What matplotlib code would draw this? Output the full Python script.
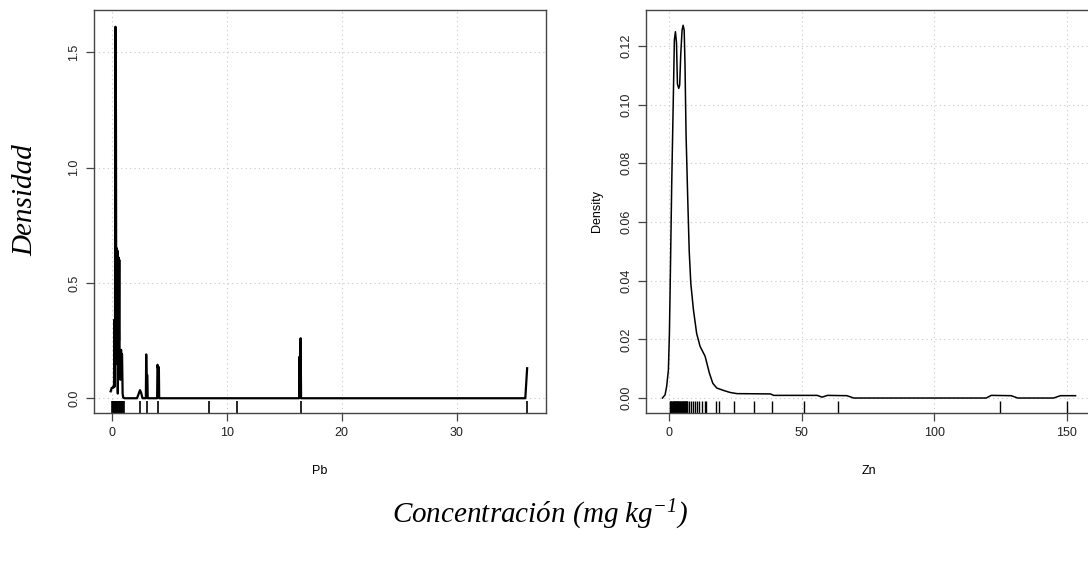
import matplotlib
matplotlib.use("Agg")
import matplotlib.pyplot as plt
from matplotlib.transforms import blended_transform_factory

# Pb density curve
pb_x = [-0.09, 0.0, 0.12, 0.2, 0.23, 0.26, 0.29, 0.31, 0.34, 0.37, 0.40, 0.44, 0.47,
        0.50, 0.53, 0.56, 0.60, 0.63, 0.66, 0.69, 0.72, 0.75, 0.78, 0.82, 0.86, 0.90,
        0.95, 1.0, 1.1, 2.2, 2.35, 2.46, 2.55, 2.68, 2.97, 3.0, 3.03, 3.1, 3.13,
        3.95, 3.98, 4.02, 4.1, 4.13, 16.3, 16.33, 16.38, 16.43, 16.47, 35.97, 36.13]
pb_y = [0.03, 0.045, 0.045, 0.06, 0.34, 0.05, 0.34, 1.61, 1.61, 1.2, 0.15, 0.65, 0.4,
        0.64, 0.02, 0.45, 0.61, 0.25, 0.6, 0.12, 0.14, 0.08, 0.2, 0.21, 0.18, 0.19,
        0.02, 0.003, 0.0, 0.0, 0.02, 0.035, 0.025, 0.0, 0.0, 0.19, 0.1, 0.1, 0.0,
        0.0, 0.145, 0.13, 0.135, 0.0, 0.0, 0.18, 0.02, 0.26, 0.0, 0.0, 0.13]
pb_rug = [0.02, 0.08, 0.14, 0.2, 0.26, 0.32, 0.38, 0.44, 0.5, 0.56, 0.62, 0.68, 0.74,
          0.8, 0.86, 0.92, 0.98, 1.04, 2.46, 3.04, 4.03, 8.46, 10.93, 16.49, 36.13]

# Zn density curve
zn_x = [-2.5, -1.5, -0.9, -0.25, 0.13, 0.5, 1.0, 1.64, 2.0, 2.4, 2.8, 3.15, 3.65, 4.0,
        4.4, 4.9, 5.3, 5.7, 6.0, 6.4, 7.05, 7.6, 8.2, 9.2, 10.4, 11.7, 13.6, 15.2,
        16.5, 18.0, 20.5, 23.0, 25.6, 38.2, 39.5, 55.9, 57.7, 59.7, 67.1, 69.6,
        119.6, 121.5, 129.0, 131.5, 145.0, 147.6, 153.3]
zn_y = [0.0, 0.0011, 0.004, 0.0096, 0.022, 0.043, 0.073, 0.104, 0.122, 0.1248, 0.121,
        0.107, 0.1055, 0.1066, 0.117, 0.1253, 0.127, 0.1253, 0.114, 0.090, 0.0675,
        0.050, 0.039, 0.030, 0.022, 0.0176, 0.0142, 0.0085, 0.005, 0.0034, 0.0026,
        0.0019, 0.0015, 0.0014, 0.0009, 0.0009, 0.0003, 0.0009, 0.0008, 0.0,
        0.0, 0.0009, 0.0008, 0.0, 0.0, 0.0008, 0.0008]
zn_rug = [0.3, 0.5, 0.7, 0.9, 1.1, 1.3, 1.5, 1.7, 1.9, 2.1, 2.3, 2.5, 2.7, 2.9, 3.1,
          3.3, 3.5, 3.7, 3.9, 4.1, 4.3, 4.5, 4.7, 4.9, 5.1, 5.3, 5.5, 5.7, 5.9, 6.1,
          6.3, 6.5, 6.7, 6.9, 7.5, 8.2, 9.0, 9.7, 10.6, 11.4, 12.4, 13.4, 14.1, 17.7,
          18.7, 24.5, 32.1, 38.8, 50.7, 63.7, 124.9, 150.0]

pb_xticks = [0, 10, 20, 30]
pb_yticks = [0.0, 0.5, 1.0, 1.5]
zn_xticks = [0, 50, 100, 150]
zn_yticks = [0.00, 0.02, 0.04, 0.06, 0.08, 0.10, 0.12]

plt.rcParams['font.family'] = ['Liberation Sans', 'DejaVu Sans']
plt.rcParams['mathtext.fontset'] = 'custom'
plt.rcParams['mathtext.rm'] = 'Liberation Serif:italic'
plt.rcParams['mathtext.it'] = 'Liberation Serif:italic'

fig = plt.figure(figsize=(10.88, 5.61), dpi=100)
W, H = 1088.0, 561.0
ax1 = fig.add_axes([94 / W, (H - 413) / H, 452 / W, 403 / H])
ax2 = fig.add_axes([646 / W, (H - 413) / H, 446 / W, 403 / H])

def style(ax, xt, yt, fmt):
    for s in ax.spines.values():
        s.set_color('#444444')
        s.set_linewidth(1.0)
    ax.set_xticks(xt)
    ax.set_yticks(yt)
    ax.set_yticklabels([fmt % v for v in yt], rotation=90, va='center')
    ax.tick_params(direction='out', length=6, width=0.9, color='#444444',
                   labelsize=9, labelcolor='#222222', pad=4)
    ax.grid(True, color='#c8c8c8', linestyle=(0, (1, 3)), linewidth=0.8)
    ax.set_axisbelow(True)

ax1.plot(pb_x, pb_y, color='black', lw=1.6)
t1 = blended_transform_factory(ax1.transData, ax1.transAxes)
ax1.vlines(pb_rug, 0, 0.03, transform=t1, color='black', lw=1.2)
ax1.set_xlim(-1.54, 37.77)
ax1.set_ylim(-0.064, 1.683)
style(ax1, pb_xticks, pb_yticks, '%.1f')
ax1.set_xlabel('Pb', fontsize=9, labelpad=19)

ax2.plot(zn_x, zn_y, color='black', lw=1.1)
t2 = blended_transform_factory(ax2.transData, ax2.transAxes)
ax2.vlines(zn_rug, 0, 0.03, transform=t2, color='black', lw=1.0)
ax2.set_xlim(-8.7, 159.5)
ax2.set_ylim(-0.0051, 0.1322)
style(ax2, zn_xticks, zn_yticks, '%.2f')
ax2.spines['right'].set_visible(False)
ax2.set_xlabel('Zn', fontsize=9, labelpad=19)
ax2.set_ylabel('Density', fontsize=9, labelpad=12)

fig.text(25 / W, (H - 200) / H, 'Densidad', rotation=90, ha='center', va='center',
         fontsize=21, family='Liberation Serif', style='italic')
fig.text(540 / W, (H - 515) / H, 'Concentración (mg kg$^{-1}$)', ha='center', va='center',
         fontsize=21, family='Liberation Serif', style='italic')

fig.savefig('out.png', dpi=100)
